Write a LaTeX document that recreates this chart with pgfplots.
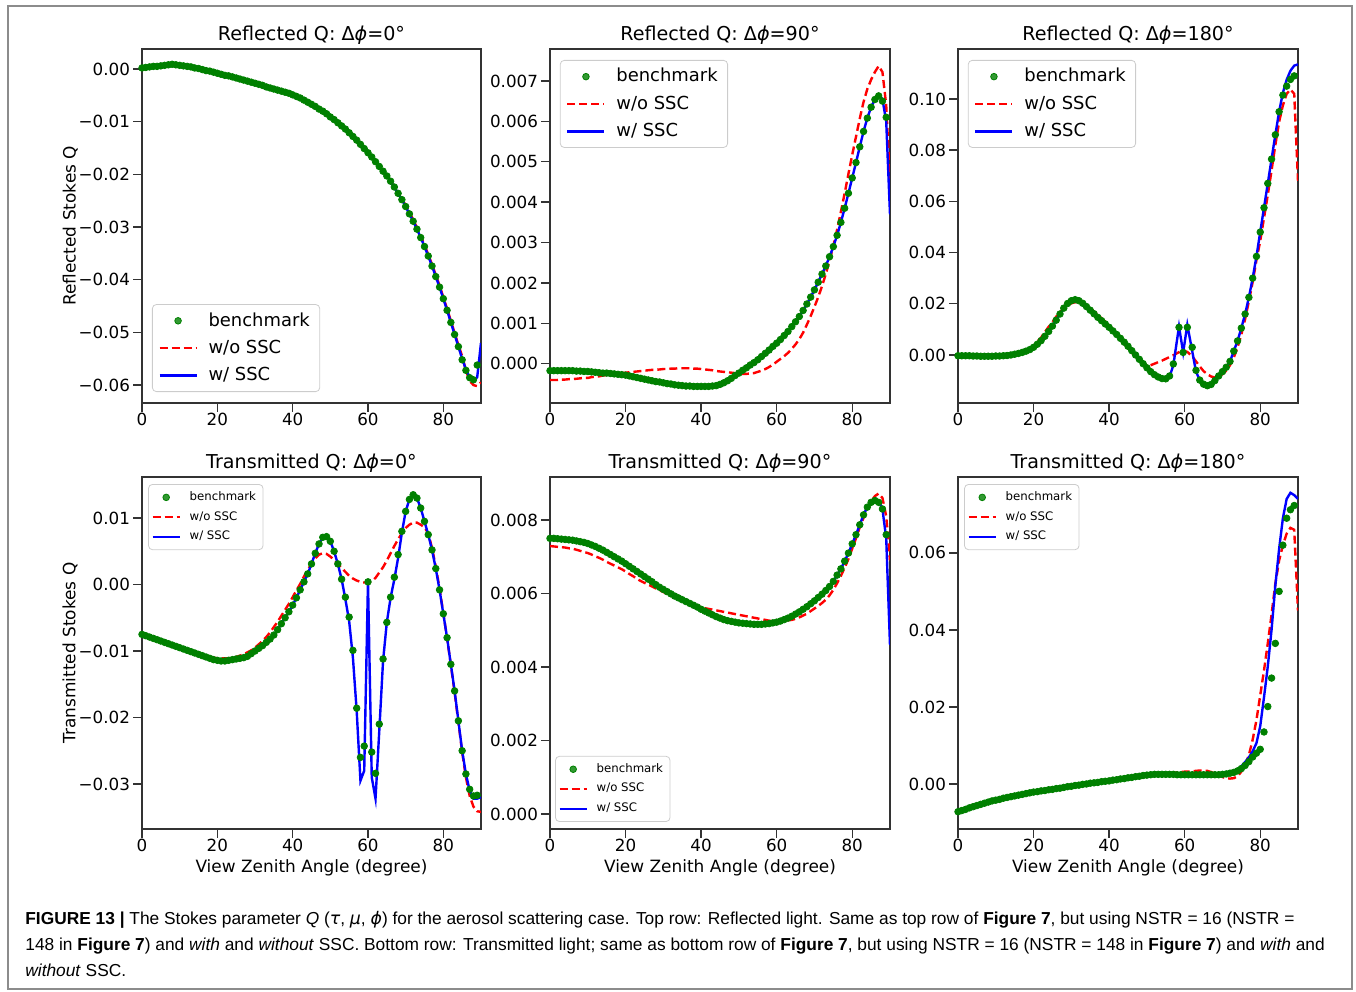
\documentclass[border=0pt]{standalone}
\usepackage{fontspec}
\setmainfont{DejaVu Sans}
\newfontfamily\capfont{Liberation Sans}
\newfontfamily\grk{DejaVu Sans}
\usepackage{pgfplots}
\usepackage{pgfplotstable}
\pgfplotsset{compat=1.18}
\definecolor{mplgreen}{rgb}{0,0.5,0}

% Reflected Q, dphi = 0   (x, benchmark, w/o SSC, w/ SSC)
\pgfplotstableread{
x b r u
0 0.0002 0.0001 0.0002
1 0.0003 0.0002 0.0003
2 0.0004 0.0003 0.0004
3 0.0005 0.0003 0.0005
4 0.0005 0.0004 0.0005
5 0.0006 0.0005 0.0006
6 0.0007 0.0005 0.0007
7 0.0008 0.0006 0.0008
8 0.0009 0.0006 0.0008
9 0.0008 0.0006 0.0008
10 0.0007 0.0006 0.0007
11 0.0006 0.0005 0.0006
12 0.0005 0.0004 0.0005
13 0.0004 0.0003 0.0004
14 0.0002 0.0002 0.0002
15 0.0001 0.0001 0.0001
16 -0.0001 -0.0001 -0.0001
17 -0.0003 -0.0002 -0.0003
18 -0.0004 -0.0004 -0.0004
19 -0.0006 -0.0006 -0.0006
20 -0.0008 -0.0008 -0.0008
21 -0.0010 -0.0010 -0.0010
22 -0.0012 -0.0012 -0.0012
23 -0.0013 -0.0013 -0.0013
24 -0.0015 -0.0015 -0.0015
25 -0.0017 -0.0017 -0.0017
26 -0.0019 -0.0019 -0.0019
27 -0.0021 -0.0021 -0.0021
28 -0.0023 -0.0023 -0.0023
29 -0.0025 -0.0025 -0.0025
30 -0.0027 -0.0027 -0.0027
31 -0.0029 -0.0029 -0.0029
32 -0.0031 -0.0031 -0.0031
33 -0.0034 -0.0034 -0.0034
34 -0.0036 -0.0036 -0.0036
35 -0.0038 -0.0038 -0.0038
36 -0.0040 -0.0040 -0.0040
37 -0.0042 -0.0042 -0.0042
38 -0.0044 -0.0044 -0.0044
39 -0.0046 -0.0046 -0.0046
40 -0.0049 -0.0049 -0.0049
41 -0.0052 -0.0052 -0.0052
42 -0.0055 -0.0055 -0.0055
43 -0.0059 -0.0059 -0.0059
44 -0.0063 -0.0063 -0.0063
45 -0.0067 -0.0067 -0.0067
46 -0.0071 -0.0071 -0.0071
47 -0.0076 -0.0076 -0.0076
48 -0.0080 -0.0080 -0.0080
49 -0.0085 -0.0085 -0.0085
50 -0.0091 -0.0091 -0.0091
51 -0.0096 -0.0096 -0.0096
52 -0.0102 -0.0102 -0.0102
53 -0.0108 -0.0108 -0.0108
54 -0.0114 -0.0114 -0.0114
55 -0.0121 -0.0121 -0.0121
56 -0.0128 -0.0128 -0.0128
57 -0.0135 -0.0135 -0.0135
58 -0.0143 -0.0143 -0.0143
59 -0.0151 -0.0151 -0.0151
60 -0.0159 -0.0159 -0.0159
61 -0.0167 -0.0167 -0.0167
62 -0.0176 -0.0176 -0.0176
63 -0.0185 -0.0185 -0.0185
64 -0.0194 -0.0194 -0.0194
65 -0.0203 -0.0203 -0.0203
66 -0.0213 -0.0213 -0.0213
67 -0.0224 -0.0224 -0.0224
68 -0.0236 -0.0236 -0.0236
69 -0.0248 -0.0248 -0.0248
70 -0.0261 -0.0258 -0.0261
71 -0.0275 -0.0272 -0.0275
72 -0.0289 -0.0286 -0.0289
73 -0.0304 -0.0301 -0.0304
74 -0.0320 -0.0317 -0.0320
75 -0.0337 -0.0334 -0.0337
76 -0.0355 -0.0352 -0.0355
77 -0.0374 -0.0371 -0.0374
78 -0.0394 -0.0391 -0.0394
79 -0.0414 -0.0411 -0.0414
80 -0.0436 -0.0433 -0.0436
81 -0.0458 -0.0455 -0.0458
82 -0.0481 -0.0478 -0.0481
83 -0.0504 -0.0501 -0.0504
84 -0.0527 -0.0524 -0.0527
85 -0.0552 -0.0545 -0.0550
86 -0.0572 -0.0572 -0.0570
87 -0.0586 -0.0592 -0.0585
88 -0.0590 -0.0600 -0.0592
89 -0.0562 -0.0602 -0.0585
90 nan -0.0595 -0.0520
}\tabA

% Reflected Q, dphi = 90
\pgfplotstableread{
x b r u
0 -0.00017 -0.00040 -0.00017
1 -0.00017 -0.00040 -0.00017
2 -0.00017 -0.00040 -0.00017
3 -0.00017 -0.00039 -0.00017
4 -0.00017 -0.00039 -0.00017
5 -0.00017 -0.00038 -0.00017
6 -0.00017 -0.00038 -0.00017
7 -0.00018 -0.00037 -0.00018
8 -0.00018 -0.00036 -0.00018
9 -0.00019 -0.00035 -0.00019
10 -0.00019 -0.00035 -0.00019
11 -0.00020 -0.00033 -0.00020
12 -0.00021 -0.00032 -0.00021
13 -0.00022 -0.00031 -0.00022
14 -0.00023 -0.00029 -0.00023
15 -0.00023 -0.00028 -0.00023
16 -0.00024 -0.00027 -0.00024
17 -0.00025 -0.00025 -0.00025
18 -0.00026 -0.00024 -0.00026
19 -0.00027 -0.00023 -0.00027
20 -0.00028 -0.00022 -0.00028
21 -0.00030 -0.00021 -0.00030
22 -0.00032 -0.00020 -0.00032
23 -0.00034 -0.00019 -0.00034
24 -0.00036 -0.00018 -0.00036
25 -0.00038 -0.00017 -0.00038
26 -0.00040 -0.00016 -0.00040
27 -0.00042 -0.00015 -0.00042
28 -0.00044 -0.00015 -0.00044
29 -0.00045 -0.00014 -0.00045
30 -0.00047 -0.00013 -0.00047
31 -0.00049 -0.00013 -0.00049
32 -0.00050 -0.00012 -0.00050
33 -0.00052 -0.00012 -0.00052
34 -0.00053 -0.00011 -0.00053
35 -0.00054 -0.00011 -0.00054
36 -0.00055 -0.00011 -0.00055
37 -0.00055 -0.00011 -0.00055
38 -0.00056 -0.00012 -0.00056
39 -0.00056 -0.00012 -0.00056
40 -0.00056 -0.00013 -0.00056
41 -0.00056 -0.00014 -0.00056
42 -0.00056 -0.00015 -0.00056
43 -0.00055 -0.00016 -0.00055
44 -0.00054 -0.00018 -0.00054
45 -0.00051 -0.00019 -0.00051
46 -0.00047 -0.00020 -0.00047
47 -0.00042 -0.00021 -0.00042
48 -0.00036 -0.00022 -0.00036
49 -0.00029 -0.00023 -0.00029
50 -0.00023 -0.00024 -0.00023
51 -0.00016 -0.00025 -0.00016
52 -0.00010 -0.00025 -0.00010
53 -0.00003 -0.00024 -0.00003
54 0.00003 -0.00023 0.00003
55 0.00010 -0.00020 0.00010
56 0.00018 -0.00017 0.00018
57 0.00026 -0.00013 0.00026
58 0.00034 -0.00008 0.00034
59 0.00043 -0.00002 0.00043
60 0.00051 0.00005 0.00051
61 0.00060 0.00012 0.00060
62 0.00070 0.00019 0.00070
63 0.00080 0.00027 0.00080
64 0.00092 0.00037 0.00092
65 0.00104 0.00048 0.00104
66 0.00117 0.00061 0.00117
67 0.00132 0.00077 0.00132
68 0.00148 0.00097 0.00148
69 0.00165 0.00118 0.00165
70 0.00183 0.00141 0.00183
71 0.00202 0.00165 0.00202
72 0.00222 0.00192 0.00222
73 0.00242 0.00222 0.00242
74 0.00265 0.00255 0.00265
75 0.00290 0.00292 0.00290
76 0.00318 0.00332 0.00318
77 0.00350 0.00376 0.00350
78 0.00385 0.00422 0.00385
79 0.00422 0.00470 0.00422
80 0.00460 0.00517 0.00460
81 0.00498 0.00562 0.00498
82 0.00537 0.00607 0.00537
83 0.00575 0.00648 0.00575
84 0.00608 0.00680 0.00608
85 0.00635 0.00703 0.00635
86 0.00654 0.00722 0.00654
87 0.00663 0.00737 0.00665
88 0.00650 0.00722 0.00655
89 0.00610 0.00640 0.00600
90 nan 0.00450 0.00370
}\tabB

% Reflected Q, dphi = 180
\pgfplotstableread{
x b r u
0 -0.0003 0.0002 -0.0003
1 -0.0003 0.0002 -0.0003
2 -0.0003 0.0002 -0.0003
3 -0.0003 0.0002 -0.0003
4 -0.0004 0.0002 -0.0004
5 -0.0004 0.0002 -0.0004
6 -0.0005 0.0002 -0.0004
7 -0.0005 0.0002 -0.0004
8 -0.0005 0.0002 -0.0004
9 -0.0005 0.0002 -0.0004
10 -0.0004 0.0002 -0.0004
11 -0.0004 0.0002 -0.0004
12 -0.0003 0.0002 -0.0003
13 -0.0002 0.0002 -0.0002
14 0.0000 0.0002 0.0000
15 0.0003 0.0004 0.0003
16 0.0006 0.0008 0.0006
17 0.0010 0.0012 0.0010
18 0.0015 0.0018 0.0015
19 0.0021 0.0026 0.0021
20 0.0030 0.0036 0.0030
21 0.0042 0.0052 0.0042
22 0.0056 0.0068 0.0056
23 0.0073 0.0090 0.0073
24 0.0092 0.0110 0.0092
25 0.0113 0.0128 0.0113
26 0.0136 0.0150 0.0136
27 0.0160 0.0168 0.0160
28 0.0183 0.0182 0.0183
29 0.0201 0.0194 0.0201
30 0.0212 0.0202 0.0212
31 0.0216 0.0206 0.0216
32 0.0212 0.0205 0.0212
33 0.0202 0.0200 0.0202
34 0.0189 0.0193 0.0189
35 0.0175 0.0183 0.0175
36 0.0161 0.0170 0.0161
37 0.0147 0.0157 0.0147
38 0.0134 0.0143 0.0134
39 0.0121 0.0130 0.0121
40 0.0108 0.0116 0.0108
41 0.0094 0.0101 0.0094
42 0.0080 0.0085 0.0080
43 0.0065 0.0064 0.0065
44 0.0050 0.0044 0.0050
45 0.0034 0.0026 0.0034
46 0.0017 0.0009 0.0017
47 0.0000 -0.0006 0.0000
48 -0.0017 -0.0020 -0.0017
49 -0.0034 -0.0032 -0.0034
50 -0.0050 -0.0041 -0.0050
51 -0.0065 -0.0040 -0.0065
52 -0.0077 -0.0034 -0.0077
53 -0.0086 -0.0028 -0.0086
54 -0.0092 -0.0022 -0.0092
55 -0.0093 -0.0015 -0.0093
56 -0.0082 -0.0008 -0.0085
57 -0.0035 -0.0001 -0.0040
58.5 0.0108 0.0011 0.0111
59.6 0.0010 0.0017 0.0010
60.7 0.0108 0.0012 0.0118
62 0.0030 -0.0005 0.0015
63 -0.0060 -0.0025 -0.0065
64 -0.0098 -0.0045 -0.0098
65 -0.0114 -0.0063 -0.0114
66 -0.0120 -0.0075 -0.0120
67 -0.0115 -0.0084 -0.0115
68 -0.0100 -0.0088 -0.0100
69 -0.0082 -0.0085 -0.0082
70 -0.0065 -0.0075 -0.0065
71 -0.0048 -0.0062 -0.0048
72 -0.0025 -0.0040 -0.0025
73 0.0015 -0.0010 0.0015
74 0.0055 0.0030 0.0055
75 0.0105 0.0080 0.0105
76 0.0160 0.0140 0.0160
77 0.0225 0.0210 0.0225
78 0.0300 0.0285 0.0300
79 0.0385 0.0370 0.0385
80 0.0480 0.0445 0.0480
81 0.0575 0.0535 0.0575
82 0.0670 0.0625 0.0670
83 0.0765 0.0720 0.0765
84 0.0860 0.0820 0.0860
85 0.0950 0.0910 0.0950
86 0.1015 0.0975 0.1024
87 0.1050 0.1020 0.1075
88 0.1076 0.1037 0.1110
89 0.1090 0.1020 0.1130
90 nan 0.0680 0.1135
}\tabC

% Transmitted Q, dphi = 0
\pgfplotstableread{
x b r u
0 -0.0075 -0.0075 -0.0075
1 -0.0077 -0.0077 -0.0077
2 -0.0079 -0.0079 -0.0079
3 -0.0081 -0.0081 -0.0081
4 -0.0083 -0.0083 -0.0083
5 -0.0085 -0.0085 -0.0085
6 -0.0087 -0.0087 -0.0087
7 -0.0089 -0.0089 -0.0089
8 -0.0091 -0.0091 -0.0091
9 -0.0093 -0.0093 -0.0093
10 -0.0095 -0.0095 -0.0095
11 -0.0097 -0.0097 -0.0097
12 -0.0099 -0.0099 -0.0099
13 -0.0101 -0.0101 -0.0101
14 -0.0103 -0.0103 -0.0103
15 -0.0105 -0.0105 -0.0105
16 -0.0107 -0.0107 -0.0107
17 -0.0109 -0.0108 -0.0109
18 -0.0111 -0.0109 -0.0111
19 -0.0113 -0.0110 -0.0113
20 -0.0114 -0.0111 -0.0114
21 -0.0115 -0.0111 -0.0115
22 -0.0115 -0.0111 -0.0115
23 -0.0114 -0.0111 -0.0114
24 -0.0113 -0.0110 -0.0113
25 -0.0112 -0.0109 -0.0112
26 -0.0111 -0.0107 -0.0111
27 -0.0110 -0.0105 -0.0110
28 -0.0108 -0.0102 -0.0108
29 -0.0104 -0.0099 -0.0104
30 -0.0100 -0.0095 -0.0100
31 -0.0096 -0.0090 -0.0096
32 -0.0092 -0.0085 -0.0092
33 -0.0087 -0.0079 -0.0087
34 -0.0082 -0.0072 -0.0082
35 -0.0076 -0.0064 -0.0076
36 -0.0068 -0.0056 -0.0068
37 -0.0059 -0.0047 -0.0059
38 -0.0050 -0.0038 -0.0050
39 -0.0041 -0.0029 -0.0041
40 -0.0031 -0.0019 -0.0031
41 -0.0020 -0.0009 -0.0020
42 -0.0008 0.0001 -0.0008
43 0.0004 0.0012 0.0004
44 0.0016 0.0022 0.0016
45 0.0031 0.0031 0.0031
46 0.0047 0.0039 0.0047
47 0.0061 0.0045 0.0061
48 0.0071 0.0047 0.0071
49 0.0072 0.0046 0.0072
50 0.0065 0.0042 0.0065
51 0.0050 0.0037 0.0050
52 0.0031 0.0031 0.0031
53 0.0008 0.0025 0.0008
54 -0.0019 0.0019 -0.0022
55 -0.0049 0.0013 -0.0055
56 -0.0099 0.0009 -0.0110
57 -0.0186 0.0006 -0.0190
58 -0.0260 0.0004 -0.0295
59 -0.0243 0.0003 -0.0280
60 0.0004 0.0003 0.0004
61 -0.0252 0.0005 -0.0290
62 -0.0284 0.0010 -0.0322
63 -0.0210 0.0018 -0.0220
64 -0.0112 0.0026 -0.0115
65 -0.0057 0.0036 -0.0057
66 -0.0019 0.0047 -0.0020
67 0.0011 0.0058 0.0008
68 0.0045 0.0068 0.0040
69 0.0080 0.0077 0.0078
70 0.0110 0.0085 0.0110
71 0.0128 0.0090 0.0128
72 0.0135 0.0093 0.0135
73 0.0130 0.0093 0.0130
74 0.0115 0.0090 0.0115
75 0.0095 0.0086 0.0095
76 0.0075 0.0077 0.0075
77 0.0052 0.0055 0.0052
78 0.0024 0.0027 0.0024
79 -0.0008 -0.0006 -0.0008
80 -0.0044 -0.0043 -0.0044
81 -0.0080 -0.0081 -0.0080
82 -0.0120 -0.0121 -0.0120
83 -0.0160 -0.0162 -0.0160
84 -0.0205 -0.0207 -0.0205
85 -0.0250 -0.0252 -0.0250
86 -0.0285 -0.0290 -0.0285
87 -0.0308 -0.0318 -0.0310
88 -0.0318 -0.0334 -0.0322
89 -0.0317 -0.0341 -0.0322
90 nan -0.0342 -0.0320
}\tabD

% Transmitted Q, dphi = 90
\pgfplotstableread{
x b r u
0 0.00750 0.00729 0.00750
1 0.00750 0.00728 0.00750
2 0.00749 0.00727 0.00749
3 0.00748 0.00726 0.00748
4 0.00747 0.00725 0.00747
5 0.00746 0.00723 0.00746
6 0.00745 0.00722 0.00745
7 0.00743 0.00719 0.00743
8 0.00741 0.00716 0.00741
9 0.00739 0.00713 0.00739
10 0.00736 0.00710 0.00736
11 0.00732 0.00706 0.00732
12 0.00728 0.00701 0.00728
13 0.00723 0.00697 0.00723
14 0.00718 0.00692 0.00718
15 0.00712 0.00686 0.00712
16 0.00706 0.00681 0.00706
17 0.00700 0.00676 0.00700
18 0.00694 0.00671 0.00694
19 0.00688 0.00666 0.00688
20 0.00681 0.00660 0.00681
21 0.00674 0.00653 0.00674
22 0.00667 0.00647 0.00667
23 0.00660 0.00640 0.00660
24 0.00653 0.00634 0.00653
25 0.00646 0.00629 0.00646
26 0.00639 0.00624 0.00639
27 0.00632 0.00619 0.00632
28 0.00624 0.00614 0.00624
29 0.00617 0.00609 0.00617
30 0.00611 0.00604 0.00611
31 0.00605 0.00599 0.00605
32 0.00599 0.00594 0.00599
33 0.00593 0.00589 0.00593
34 0.00588 0.00585 0.00588
35 0.00583 0.00581 0.00583
36 0.00578 0.00577 0.00578
37 0.00573 0.00573 0.00573
38 0.00568 0.00569 0.00568
39 0.00563 0.00566 0.00563
40 0.00557 0.00563 0.00557
41 0.00552 0.00560 0.00552
42 0.00547 0.00558 0.00547
43 0.00542 0.00556 0.00542
44 0.00537 0.00554 0.00537
45 0.00533 0.00552 0.00533
46 0.00529 0.00550 0.00529
47 0.00526 0.00548 0.00526
48 0.00524 0.00546 0.00524
49 0.00522 0.00544 0.00522
50 0.00520 0.00542 0.00520
51 0.00519 0.00540 0.00519
52 0.00518 0.00538 0.00518
53 0.00517 0.00536 0.00517
54 0.00516 0.00534 0.00516
55 0.00516 0.00532 0.00516
56 0.00516 0.00530 0.00516
57 0.00517 0.00528 0.00517
58 0.00518 0.00526 0.00518
59 0.00520 0.00525 0.00520
60 0.00522 0.00525 0.00522
61 0.00525 0.00525 0.00525
62 0.00529 0.00526 0.00529
63 0.00533 0.00527 0.00533
64 0.00538 0.00528 0.00538
65 0.00544 0.00531 0.00544
66 0.00550 0.00535 0.00550
67 0.00557 0.00540 0.00557
68 0.00564 0.00545 0.00564
69 0.00572 0.00552 0.00572
70 0.00580 0.00559 0.00580
71 0.00589 0.00566 0.00589
72 0.00598 0.00574 0.00598
73 0.00608 0.00583 0.00608
74 0.00619 0.00595 0.00619
75 0.00633 0.00610 0.00633
76 0.00650 0.00628 0.00650
77 0.00667 0.00648 0.00667
78 0.00688 0.00670 0.00688
79 0.00710 0.00694 0.00710
80 0.00735 0.00722 0.00735
81 0.00760 0.00750 0.00760
82 0.00787 0.00780 0.00787
83 0.00814 0.00806 0.00814
84 0.00835 0.00830 0.00835
85 0.00848 0.00850 0.00848
86 0.00853 0.00865 0.00855
87 0.00848 0.00872 0.00853
88 0.00830 0.00860 0.00830
89 0.00760 0.00810 0.00750
90 nan 0.00690 0.00460
}\tabE

% Transmitted Q, dphi = 180
\pgfplotstableread{
x b r u
0 -0.0072 -0.0072 -0.0072
1 -0.0069 -0.0068 -0.0068
2 -0.0066 -0.0065 -0.0065
3 -0.0062 -0.0061 -0.0061
4 -0.0059 -0.0058 -0.0058
5 -0.0056 -0.0055 -0.0055
6 -0.0053 -0.0052 -0.0052
7 -0.0050 -0.0049 -0.0049
8 -0.0047 -0.0047 -0.0047
9 -0.0044 -0.0044 -0.0044
10 -0.0042 -0.0041 -0.0041
11 -0.0040 -0.0039 -0.0039
12 -0.0037 -0.0037 -0.0037
13 -0.0035 -0.0034 -0.0034
14 -0.0033 -0.0032 -0.0032
15 -0.0031 -0.0030 -0.0030
16 -0.0029 -0.0028 -0.0028
17 -0.0027 -0.0026 -0.0026
18 -0.0025 -0.0024 -0.0024
19 -0.0023 -0.0022 -0.0022
20 -0.0021 -0.0020 -0.0020
21 -0.0020 -0.0019 -0.0019
22 -0.0018 -0.0017 -0.0017
23 -0.0017 -0.0016 -0.0016
24 -0.0015 -0.0014 -0.0014
25 -0.0014 -0.0013 -0.0013
26 -0.0012 -0.0011 -0.0011
27 -0.0011 -0.0010 -0.0010
28 -0.0009 -0.0008 -0.0008
29 -0.0007 -0.0006 -0.0006
30 -0.0006 -0.0005 -0.0005
31 -0.0004 -0.0003 -0.0003
32 -0.0003 -0.0002 -0.0002
33 -0.0001 0.0000 0.0000
34 0.0000 0.0001 0.0001
35 0.0002 0.0003 0.0003
36 0.0003 0.0004 0.0004
37 0.0004 0.0005 0.0005
38 0.0006 0.0007 0.0007
39 0.0007 0.0008 0.0008
40 0.0008 0.0009 0.0009
41 0.0010 0.0011 0.0011
42 0.0011 0.0012 0.0012
43 0.0013 0.0014 0.0014
44 0.0014 0.0015 0.0015
45 0.0016 0.0017 0.0017
46 0.0017 0.0018 0.0018
47 0.0019 0.0020 0.0020
48 0.0020 0.0021 0.0021
49 0.0022 0.0023 0.0023
50 0.0023 0.0024 0.0024
51 0.0024 0.0025 0.0025
52 0.0025 0.0026 0.0026
53 0.0025 0.0027 0.0027
54 0.0025 0.0027 0.0027
55 0.0025 0.0027 0.0027
56 0.0025 0.0028 0.0027
57 0.0025 0.0029 0.0027
58 0.0024 0.0030 0.0026
59 0.0024 0.0031 0.0026
60 0.0024 0.0032 0.0026
61 0.0024 0.0032 0.0026
62 0.0024 0.0033 0.0026
63 0.0024 0.0034 0.0026
64 0.0024 0.0035 0.0026
65 0.0024 0.0035 0.0026
66 0.0024 0.0034 0.0026
67 0.0024 0.0031 0.0026
68 0.0024 0.0027 0.0026
69 0.0024 0.0022 0.0026
70 0.0025 0.0018 0.0027
71 0.0026 0.0015 0.0028
72 0.0028 0.0014 0.0030
73 0.0030 0.0015 0.0033
74 0.0034 0.0020 0.0038
75 0.0040 0.0032 0.0046
76 0.0048 0.0050 0.0057
77 0.0058 0.0075 0.0069
78 0.0070 0.0115 0.0085
79 0.0080 0.0166 0.0106
80 0.0090 0.0230 0.0150
81 0.0135 0.0295 0.0225
82 0.0201 0.0365 0.0305
83 0.0275 0.0440 0.0400
84 0.0365 0.0520 0.0515
85 0.0500 0.0580 0.0610
86 0.0620 0.0620 0.0690
87 0.0690 0.0650 0.0740
88 0.0712 0.0665 0.0756
89 0.0723 0.0660 0.0750
90 nan 0.0450 0.0740
}\tabF

\pgfplotsset{
  panel/.style={
    scale only axis, xmin=0, xmax=90,
    xtick={0,20,40,60,80}, xticklabels={0,20,40,60,80},
    scaled ticks=false,
    axis line style={black!80, line width=0.7bp},
    tick style={black!80, line width=0.7bp},
    major tick length=4.5bp, tick align=outside,
    xtick pos=bottom, ytick pos=left,
    ticklabel style={font=\fontsize{8.4}{10}\selectfont},
    xticklabel style={yshift=2.75bp},
    yticklabel style={xshift=2bp},
    every axis title/.style={at={(axis description cs:0.5,1)}, anchor=base,
      yshift=4.15bp, font=\fontsize{9.6}{11.5}\selectfont},
    every axis x label/.style={at={(axis description cs:0.5,0)}, anchor=base,
      yshift=-22bp, font=\fontsize{8.5}{10}\selectfont},
    every axis y label/.style={at={(axis description cs:0,0.5)}, xshift=-33.25bp,
      rotate=90, anchor=base, font=\fontsize{8.5}{10}\selectfont},
    legend cell align=left,
    legend style={draw=black!20, rounded corners=2pt, fill=white,
      fill opacity=0.8, text opacity=1, draw opacity=1},
  },
  legbig/.style={
    legend style={font=\fontsize{9}{10.8}\selectfont, row sep=1.5bp},
    legend image code/.code={\draw[mark repeat=2,mark phase=2,##1]
      plot coordinates {(0bp,0bp) (9.25bp,0bp) (18.5bp,0bp)};
      \path[draw=none, fill=none] (0bp,0bp) -- (22.5bp,0bp);},
  },
  legsmall/.style={
    legend style={font=\fontsize{5.9}{7}\selectfont, inner xsep=1.5bp, inner ysep=1.5bp},
    legend image code/.code={\draw[mark repeat=2,mark phase=2,##1]
      plot coordinates {(0bp,0bp) (6.75bp,0bp) (13.5bp,0bp)};
      \path[draw=none, fill=none] (0bp,0bp) -- (16.5bp,0bp);},
  },
  bench/.style={only marks, mark=*, mark size=1.65bp, color=mplgreen,
    mark options={draw=none, fill=mplgreen}},
  wo/.style={red, line width=1.2bp, dash pattern=on 4bp off 2bp, no marks},
  ws/.style={blue, line width=1.2bp, no marks},
}

\begin{document}
\begin{tikzpicture}
\path[use as bounding box] (0bp,0bp) rectangle (678bp,496bp);
\draw[black!45, line width=0.6bp] (4bp,1.5bp) rectangle (676bp,493bp);

% top row
\begin{axis}[panel, legbig, at={(71bp,294.5bp)}, anchor=south west,
  width=169.5bp, height=177bp, ymin=-0.0634, ymax=0.0038,
  ytick={-0.06,-0.05,-0.04,-0.03,-0.02,-0.01,0},
  yticklabels={−0.06,−0.05,−0.04,−0.03,−0.02,−0.01,0.00},
  title={Reflected Q: Δ\textit{ϕ}=0°}, ylabel={Reflected Stokes Q},
  legend style={at={(0.0295,0.031)}, anchor=south west}]
\addplot[bench] table[x=x,y=b]{\tabA};
\addplot[wo] table[x=x,y=r]{\tabA};
\addplot[ws] table[x=x,y=u]{\tabA};
\legend{benchmark,w/o SSC,w/ SSC}
\end{axis}

\begin{axis}[panel, legbig, at={(275bp,294.5bp)}, anchor=south west,
  width=170bp, height=177bp, ymin=-0.00097, ymax=0.00779,
  ytick={0,0.001,0.002,0.003,0.004,0.005,0.006,0.007},
  yticklabels={0.000,0.001,0.002,0.003,0.004,0.005,0.006,0.007},
  title={Reflected Q: Δ\textit{ϕ}=90°},
  legend style={at={(0.029,0.969)}, anchor=north west}]
\addplot[bench] table[x=x,y=b]{\tabB};
\addplot[wo] table[x=x,y=r]{\tabB};
\addplot[ws] table[x=x,y=u]{\tabB};
\legend{benchmark,w/o SSC,w/ SSC}
\end{axis}

\begin{axis}[panel, legbig, at={(479bp,294.5bp)}, anchor=south west,
  width=170bp, height=177bp, ymin=-0.01875, ymax=0.1195,
  ytick={0,0.02,0.04,0.06,0.08,0.1},
  yticklabels={0.00,0.02,0.04,0.06,0.08,0.10},
  title={Reflected Q: Δ\textit{ϕ}=180°},
  legend style={at={(0.029,0.969)}, anchor=north west}]
\addplot[bench] table[x=x,y=b]{\tabC};
\addplot[wo] table[x=x,y=r]{\tabC};
\addplot[ws] table[x=x,y=u]{\tabC};
\legend{benchmark,w/o SSC,w/ SSC}
\end{axis}

% bottom row
\begin{axis}[panel, legsmall, at={(71bp,81.5bp)}, anchor=south west,
  width=169.5bp, height=176bp, ymin=-0.03677, ymax=0.01617,
  ytick={-0.03,-0.02,-0.01,0,0.01},
  yticklabels={−0.03,−0.02,−0.01,0.00,0.01},
  title={Transmitted Q: Δ\textit{ϕ}=0°}, ylabel={Transmitted Stokes Q},
  xlabel={View Zenith Angle (degree)},
  legend style={at={(0.018,0.98)}, anchor=north west}]
\addplot[bench] table[x=x,y=b]{\tabD};
\addplot[wo] table[x=x,y=r]{\tabD};
\addplot[ws] table[x=x,y=u]{\tabD};
\legend{benchmark,w/o SSC,w/ SSC}
\end{axis}

\begin{axis}[panel, legsmall, at={(275bp,81.5bp)}, anchor=south west,
  width=170bp, height=176bp, ymin=-0.00041, ymax=0.00917,
  ytick={0,0.002,0.004,0.006,0.008},
  yticklabels={0.000,0.002,0.004,0.006,0.008},
  title={Transmitted Q: Δ\textit{ϕ}=90°},
  xlabel={View Zenith Angle (degree)},
  legend style={at={(0.015,0.02)}, anchor=south west}]
\addplot[bench] table[x=x,y=b]{\tabE};
\addplot[wo] table[x=x,y=r]{\tabE};
\addplot[ws] table[x=x,y=u]{\tabE};
\legend{benchmark,w/o SSC,w/ SSC}
\end{axis}

\begin{axis}[panel, legsmall, at={(479bp,81.5bp)}, anchor=south west,
  width=170bp, height=176bp, ymin=-0.01169, ymax=0.0797,
  ytick={0,0.02,0.04,0.06},
  yticklabels={0.00,0.02,0.04,0.06},
  title={Transmitted Q: Δ\textit{ϕ}=180°},
  xlabel={View Zenith Angle (degree)},
  legend style={at={(0.018,0.98)}, anchor=north west}]
\addplot[bench] table[x=x,y=b]{\tabF};
\addplot[wo] table[x=x,y=r]{\tabF};
\addplot[ws] table[x=x,y=u]{\tabF};
\legend{benchmark,w/o SSC,w/ SSC}
\end{axis}

% caption
\node[anchor=north west, inner sep=0pt, align=left,
  font=\capfont\fontsize{8.7}{13}\selectfont] at (12.5bp,40.5bp)
{\textbf{FIGURE 13 |} The Stokes parameter \textit{Q} ({\grk\itshape τ}, {\grk\itshape μ}, {\grk\itshape ϕ}) for the aerosol scattering case. Top row: Reflected light. Same as top row of \textbf{Figure 7}, but using NSTR = 16 (NSTR =\\
148 in \textbf{Figure 7}) and \textit{with} and \textit{without} SSC. Bottom row: Transmitted light; same as bottom row of \textbf{Figure 7}, but using NSTR = 16 (NSTR = 148 in \textbf{Figure 7}) and \textit{with} and\\
\textit{without} SSC.};
\end{tikzpicture}
\end{document}
